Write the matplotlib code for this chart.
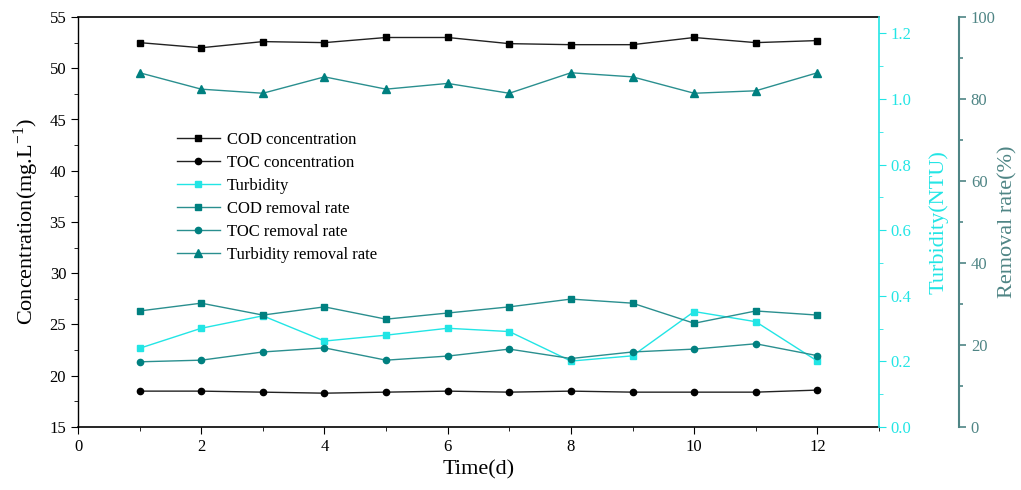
import matplotlib
matplotlib.use("Agg")
import matplotlib.pyplot as plt
from matplotlib.ticker import MultipleLocator

plt.rcParams['font.family'] = ['Liberation Serif', 'DejaVu Serif']
plt.rcParams['mathtext.fontset'] = 'custom'
plt.rcParams['mathtext.rm'] = 'Liberation Serif'

days = [1, 2, 3, 4, 5, 6, 7, 8, 9, 10, 11, 12]
cod_conc = [52.5, 52.0, 52.6, 52.5, 53.0, 53.0, 52.4, 52.3, 52.3, 53.0, 52.5, 52.7]
toc_conc = [18.5, 18.5, 18.4, 18.3, 18.4, 18.5, 18.4, 18.5, 18.4, 18.4, 18.4, 18.6]
turbidity = [0.240, 0.301, 0.339, 0.262, 0.280, 0.301, 0.291, 0.201, 0.217, 0.352, 0.321, 0.201]
cod_removal = [28.3, 30.2, 27.3, 29.3, 26.3, 27.8, 29.3, 31.2, 30.2, 25.3, 28.3, 27.3]
toc_removal = [15.9, 16.3, 18.3, 19.3, 16.3, 17.3, 19.0, 16.7, 18.3, 19.0, 20.3, 17.4]
turb_removal = [86.4, 82.4, 81.4, 85.4, 82.4, 83.8, 81.4, 86.4, 85.4, 81.4, 82.0, 86.4]

CYAN = '#22e5e5'
TEAL = '#008080'
TEAL_LINE = '#2a8f8f'
RR_AX = '#4f8585'

fig = plt.figure(figsize=(10.21, 4.90), dpi=100)
ax1 = fig.add_axes([78/1021, 1-427/490, (879-78)/1021, (427-17)/490])
ax2 = ax1.twinx()
ax3 = ax1.twinx()
ax3.spines['right'].set_position(('outward', 80 * 72 / 100))

ms = 4.5
l1, = ax1.plot(days, cod_conc, color='#222222', lw=1, marker='s', ms=ms, mfc='black', mec='black', label='COD concentration')
l2, = ax1.plot(days, toc_conc, color='#222222', lw=1, marker='o', ms=ms, mfc='black', mec='black', label='TOC concentration')
l3, = ax2.plot(days, turbidity, color=CYAN, lw=1, marker='s', ms=ms, mfc=CYAN, mec=CYAN, label='Turbidity')
l4, = ax3.plot(days, cod_removal, color=TEAL_LINE, lw=1, marker='s', ms=ms, mfc=TEAL, mec=TEAL, label='COD removal rate')
l5, = ax3.plot(days, toc_removal, color=TEAL_LINE, lw=1, marker='o', ms=ms, mfc=TEAL, mec=TEAL, label='TOC removal rate')
l6, = ax3.plot(days, turb_removal, color=TEAL_LINE, lw=1, marker='^', ms=ms+1, mfc=TEAL, mec=TEAL, label='Turbidity removal rate')

fs_tick = 12
fs_lab = 16

ax1.set_xlim(0, 13)
ax1.set_ylim(15, 55)
ax1.xaxis.set_major_locator(MultipleLocator(2))
ax1.xaxis.set_minor_locator(MultipleLocator(1))
ax1.yaxis.set_major_locator(MultipleLocator(5))
ax1.yaxis.set_minor_locator(MultipleLocator(2.5))
ax1.tick_params(axis='both', which='both', direction='out', labelsize=fs_tick, colors='black')
ax1.tick_params(which='major', length=5)
ax1.tick_params(which='minor', length=3)
ax1.set_xlabel('Time(d)', fontsize=fs_lab, labelpad=4)
ax1.set_ylabel('Concentration(mg.L$^{\\mathrm{-1}}$)', fontsize=fs_lab, labelpad=6)
ax1.spines['right'].set_visible(False)

ax2.set_ylim(0, 1.25)
ax2.yaxis.set_major_locator(MultipleLocator(0.2))
ax2.yaxis.set_minor_locator(MultipleLocator(0.1))
ax2.yaxis.set_major_formatter(plt.FuncFormatter(lambda v, p: f'{v:.1f}'))
ax2.tick_params(axis='y', which='both', direction='out', colors=CYAN, labelsize=fs_tick)
ax2.tick_params(which='major', length=5)
ax2.tick_params(which='minor', length=3)
ax2.spines['right'].set_color(CYAN)
ax2.spines['right'].set_linewidth(1.2)
ax2.set_ylabel('Turbidity(NTU)', fontsize=fs_lab, color=CYAN, labelpad=12)

ax3.set_ylim(0, 100)
ax3.yaxis.set_major_locator(MultipleLocator(20))
ax3.yaxis.set_minor_locator(MultipleLocator(10))
ax3.tick_params(axis='y', which='both', direction='out', colors=RR_AX, labelsize=fs_tick, width=1.2)
ax3.tick_params(which='major', length=5)
ax3.tick_params(which='minor', length=3)
ax3.spines['right'].set_color(RR_AX)
ax3.spines['right'].set_linewidth(1.5)
ax3.set_ylabel('Removal rate(%)', fontsize=fs_lab, color=RR_AX, labelpad=2)
for a in (ax2, ax3):
    for s in ('left', 'top', 'bottom'):
        a.spines[s].set_visible(False)

ax1.spines['top'].set_linewidth(1.2)
ax1.spines['bottom'].set_linewidth(1.2)
ax1.spines['left'].set_linewidth(1.0)

leg = ax3.legend(handles=[l1, l2, l3, l4, l5, l6], loc='upper left',
                 bbox_to_anchor=(0.115, 0.735), frameon=False, fontsize=12,
                 handlelength=2.6, handletextpad=0.4, labelspacing=0.42, borderaxespad=0)

fig.savefig('out.png', dpi=100)
